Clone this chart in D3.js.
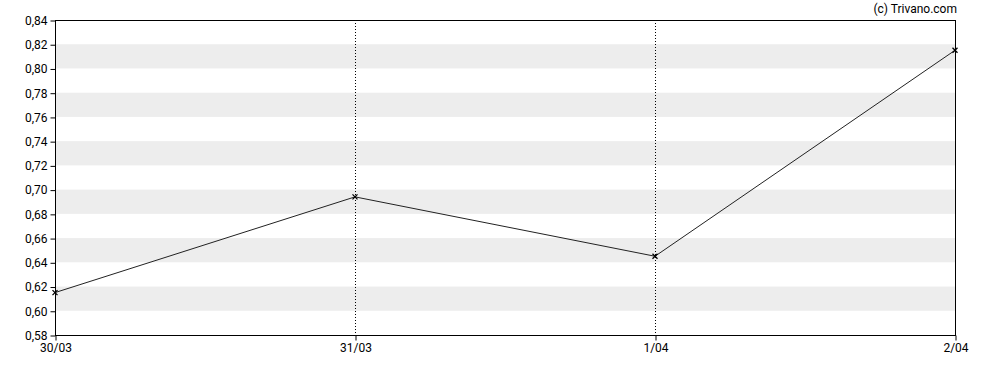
<!DOCTYPE html>
<html>
<head>
<meta charset="utf-8">
<script src="https://cdn.jsdelivr.net/npm/d3@7"></script>
<style>
  body { margin: 0; background: #fff; }
  svg { display: block; font-family: Roboto, sans-serif; }
</style>
</head>
<body>
<div id="chart"></div>
<script>
const dates = ['30/03', '31/03', '1/04', '2/04'];
const prices = [0.615, 0.694, 0.645, 0.815];
const yTicks = [0.58, 0.60, 0.62, 0.64, 0.66, 0.68, 0.70, 0.72, 0.74, 0.76, 0.78, 0.80, 0.82, 0.84];

const width = 988;
const height = 370;
const margin = { top: 20, right: 33, bottom: 35, left: 55 };

const svg = d3.select('#chart')
  .append('svg')
  .attr('width', width)
  .attr('height', height);

const xScale = d3.scalePoint()
  .domain(dates)
  .range([margin.left, width - margin.right]);

const yScale = d3.scaleLinear()
  .domain([0.58, 0.84])
  .range([height - margin.bottom, margin.top]);

// alternating bands
const bands = yTicks.slice(0, -1).filter((d, i) => i % 2 === 1);
svg.append('g')
  .selectAll('rect')
  .data(bands)
  .join('rect')
  .attr('x', margin.left)
  .attr('width', width - margin.right - margin.left)
  .attr('y', (d) => yScale(d + 0.02))
  .attr('height', (d) => yScale(d) - yScale(d + 0.02))
  .attr('fill', '#ededed');

// dotted verticals
svg.append('g')
  .selectAll('line')
  .data(dates.slice(1, -1))
  .join('line')
  .attr('x1', (d) => xScale(d) + 0.5)
  .attr('x2', (d) => xScale(d) + 0.5)
  .attr('y1', margin.top)
  .attr('y2', height - margin.bottom)
  .attr('stroke', '#000')
  .attr('stroke-dasharray', '1,2');

// frame
svg.append('rect')
  .attr('x', margin.left + 0.5)
  .attr('y', margin.top + 0.5)
  .attr('width', width - margin.right - margin.left)
  .attr('height', height - margin.bottom - margin.top)
  .attr('fill', 'none')
  .attr('stroke', '#000');

const fmt = (d) => d.toFixed(2).replace('.', ',');

const yAxis = svg.append('g')
  .attr('transform', `translate(${margin.left + 0.5}, 0.5)`)
  .call(d3.axisLeft(yScale).tickValues(yTicks).tickFormat(fmt).tickSize(5).tickPadding(3));
yAxis.select('.domain').remove();

const xAxis = svg.append('g')
  .attr('transform', `translate(0.5, ${height - margin.bottom + 0.5})`)
  .call(d3.axisBottom(xScale).tickSize(5).tickPadding(3));
xAxis.select('.domain').remove();

svg.selectAll('.tick text')
  .attr('font-family', 'Roboto, sans-serif')
  .attr('font-size', 12)
  .attr('fill', '#000');
svg.selectAll('.tick line').attr('stroke', '#000');

const line = d3.line()
  .x((d, i) => xScale(dates[i]))
  .y((d) => yScale(d));

svg.append('path')
  .datum(prices)
  .attr('d', line)
  .attr('fill', 'none')
  .attr('stroke', '#222')
  .attr('stroke-width', 1);

svg.append('g')
  .selectAll('path')
  .data(prices)
  .join('path')
  .attr('transform', (d, i) => `translate(${xScale(dates[i])}, ${yScale(d)})`)
  .attr('d', 'M-2.5,-2.5L2.5,2.5M-2.5,2.5L2.5,-2.5')
  .attr('stroke', '#000')
  .attr('stroke-width', 1.3);

svg.append('text')
  .attr('x', width - margin.right + 2)
  .attr('y', 13)
  .attr('text-anchor', 'end')
  .attr('font-size', 12)
  .attr('fill', '#000')
  .text('(c) Trivano.com');
</script>
</body>
</html>
